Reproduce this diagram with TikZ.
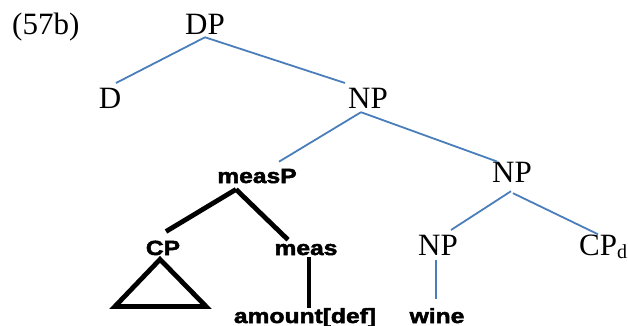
\documentclass[tikz,border=0pt]{standalone}
\usepackage{fontspec}
\setmainfont{Liberation Serif}
\newfontfamily\bsans[FakeStretch=1.2,FakeBold=2.5]{Liberation Sans Bold}
\definecolor{treeblue}{RGB}{74,126,187}
\begin{document}
\begin{tikzpicture}[x=1pt,y=-1pt,
  serif/.style={inner sep=0pt,anchor=base,font=\fontsize{31}{31}\selectfont},
  bold/.style={inner sep=0pt,anchor=base,font=\fontsize{20.5}{20.5}\selectfont\bsans},
  blueline/.style={draw=treeblue,line width=1.8pt},
  blackline/.style={draw=black,line width=4.8pt}]
\useasboundingbox (0,0) rectangle (628,326);
\node[serif,anchor=base west] (lab) at (12,35) {(57b)};
\node[serif] (dp) at (205,35) {DP};
\node[serif] (d) at (110,108) {D};
\node[serif] (np1) at (368,108) {NP};
\node[bold] (measp) at (257,183) {measP};
\node[serif] (np2) at (512,182) {NP};
\node[bold] (cp) at (163,255) {CP};
\node[bold] (meas) at (306,255) {meas};
\node[serif] (np3) at (438,255) {NP};
\node[serif,anchor=base west] (cpd) at (579,255) {CP\raisebox{-3pt}{\fontsize{20}{20}\selectfont d}};
\node[bold] (amount) at (305,323) {amount[def]};
\node[bold] (wine) at (437,323) {wine};
% blue connectors
\draw[blueline] ([shift={(0,2)}]dp.south) -- ([shift={(6,-4.5)}]d.north);
\draw[blueline] ([shift={(0,2)}]dp.south) -- ([shift={(-3,-4.5)}]np1.north west);
\draw[blueline] ([shift={(-7,4)}]np1.south) -- ([shift={(22,-7)}]measp.north);
\draw[blueline] ([shift={(-7,4)}]np1.south) -- ([shift={(-15,0)}]np2.north);
\draw[blueline] ([shift={(-1,9)}]np2.south) -- ([shift={(13,-4.5)}]np3.north);
\draw[blueline] ([shift={(1,11)}]np2.south) -- ([shift={(19,0)}]cpd.north west);
\draw[blueline] ([shift={(-2,5)}]np3.south) -- ([shift={(-1,-9)}]wine.north);
% black connectors
\draw[blackline] ([shift={(-21,6)}]measp.south) -- ([shift={(3,-9)}]cp.north);
\draw[blackline] ([shift={(-21,6)}]measp.south) -- ([shift={(-18,-4)}]meas.north);
\draw[blackline] ([shift={(3,2)}]meas.south) -- ([shift={(4,0)}]amount.north);
\draw[blackline] ([shift={(-3,4)}]cp.south) -- ([shift={(-48,51)}]cp.south) -- ([shift={(43,51)}]cp.south) -- cycle;
\end{tikzpicture}
\end{document}
